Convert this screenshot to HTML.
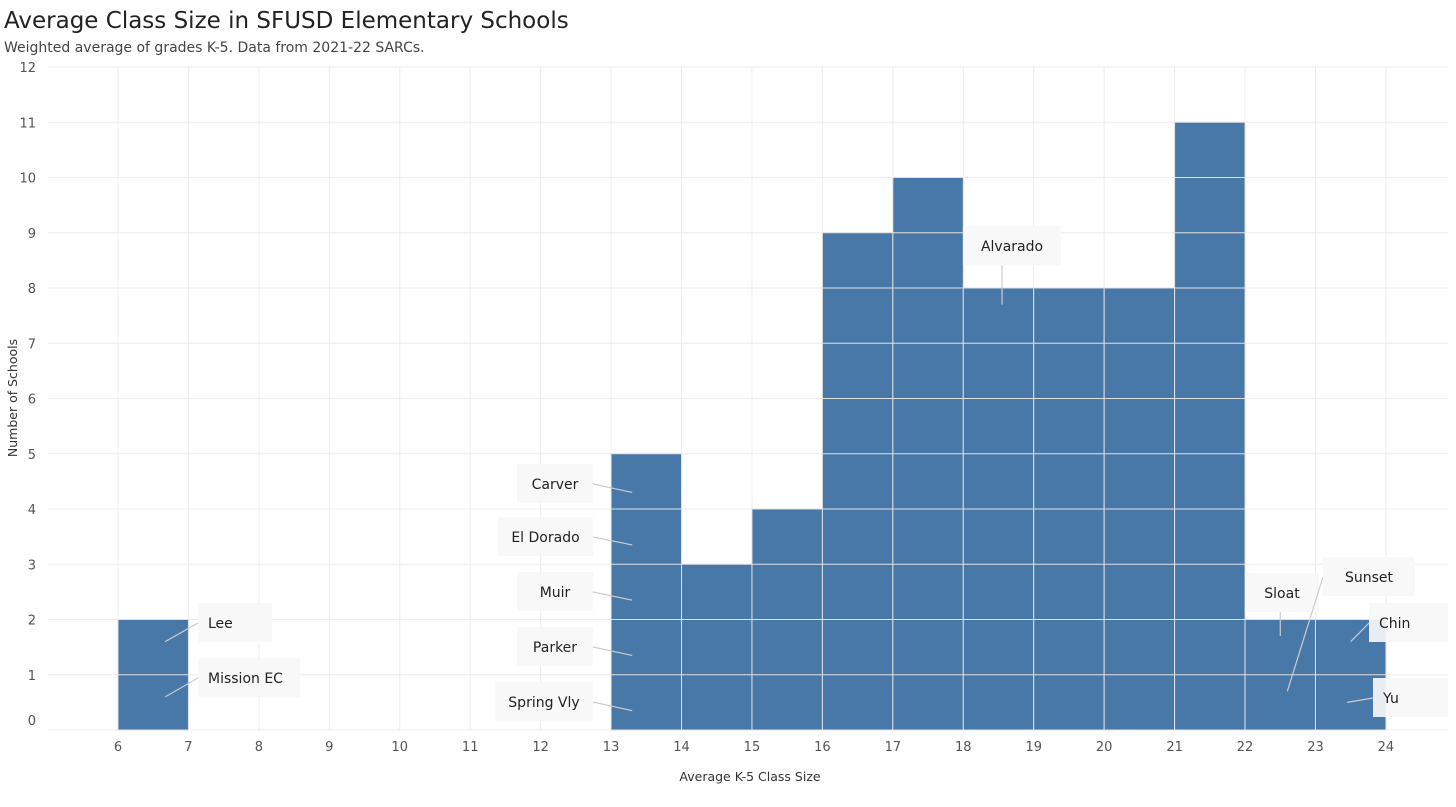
<!DOCTYPE html>
<html><head><meta charset="utf-8"><style>
body{margin:0;background:#fff;font-family:"DejaVu Sans","Liberation Sans",sans-serif;}
svg text{font-family:"DejaVu Sans","Liberation Sans",sans-serif;}
</style></head><body>
<svg id="c" width="1456" height="803">
<text x="4" y="28" font-size="23" fill="#222">Average Class Size in SFUSD Elementary Schools</text>
<text x="4" y="52" font-size="14" fill="#444">Weighted average of grades K-5. Data from 2021-22 SARCs.</text>
<g id="grid"></g><g id="bars"></g><g id="ann"></g><g id="axes"></g>
<text x="750" y="781" font-size="12.5" text-anchor="middle" fill="#333">Average K-5 Class Size</text>
<text transform="translate(17,398) rotate(-90)" font-size="12.5" text-anchor="middle" fill="#333">Number of Schools</text>
</svg>
<script>
const binStarts=[6,13,14,15,16,17,18,19,20,21,22,23];
const counts=[2,5,3,4,9,10,8,8,8,11,2,2];
const xTicks=[6,7,8,9,10,11,12,13,14,15,16,17,18,19,20,21,22,23,24];
const yTicks=[0,1,2,3,4,5,6,7,8,9,10,11,12];
const annNames=["Lee","Mission EC","Carver","El Dorado","Muir","Parker","Spring Vly","Alvarado","Sloat","Sunset","Chin","Yu"];
const annX=[6.67,6.67,13.3,13.3,13.3,13.3,13.3,18.55,22.5,22.6,23.5,23.45];
const annY=[1.6,0.6,4.3,3.35,2.35,1.35,0.35,7.7,1.7,0.7,1.6,0.5];
const NS="http://www.w3.org/2000/svg";
const X=v=>118+(v-6)*70.44, Y=v=>730-v*55.25;
function mk(t,a,p){const e=document.createElementNS(NS,t);for(const k in a)e.setAttribute(k,a[k]);p.appendChild(e);return e;}
const grid=document.getElementById('grid'),bars=document.getElementById('bars'),ax=document.getElementById('axes'),ann=document.getElementById('ann');
for(let v=5;v<=25;v++){const x=X(v);if(x<48||x>1448)continue;const l=mk('line',{x1:x,x2:x,y1:67,y2:730,stroke:'#ececec'},grid);}
yTicks.forEach(v=>{const l=mk('line',{x1:48,x2:1448,y1:Y(v),y2:Y(v),stroke:'#ececec'},grid);
const t=mk('text',{x:36,y:(v===0?720:Y(v))+5,'font-size':13,'text-anchor':'end',fill:'#555'},ax);t.textContent=v;});
xTicks.forEach(v=>{const t=mk('text',{x:X(v),y:751,'font-size':13,'text-anchor':'middle',fill:'#555'},ax);t.textContent=v;});
binStarts.forEach((b,i)=>{const r=mk('rect',{x:X(b),y:Y(counts[i]),width:X(b+1)-X(b),height:Y(0)-Y(counts[i]),fill:'#4878a8',stroke:'#e0e0e0','stroke-width':1},bars);
for(let k=1;k<counts[i];k++){const l=mk('line',{x1:X(b),x2:X(b+1),y1:Y(k),y2:Y(k),stroke:'#e0e0e0'},bars);}});
// label box positions (layout, px)
const boxes=[[198,603,74],[198,658,102],[517,464,76],[498,517,95],[517,572,76],[517,627,76],[495,682,98],[963,226,98],[1245,573,74],[1323,557,92],[1369,603,79],[1373,678,75]];
annNames.forEach((n,i)=>{const [bx,by,bw]=boxes[i];const px=X(annX[i]),py=Y(annY[i]);
let lx,ly;if(bx+bw<px){lx=bx+bw;ly=by+20;}else if(bx>px){lx=bx;ly=by+20;}else{lx=Math.min(Math.max(px,bx),bx+bw);ly=by+39;}
const l=mk('line',{x1:lx,y1:ly,x2:px,y2:py,stroke:'#ccc','stroke-width':1.2},ann);
const r=mk('rect',{x:bx,y:by,width:bw,height:39,fill:'#f7f7f7','fill-opacity':0.92},ann);
const t=mk('text',{x:(n==='Chin'||n==='Yu'||n==='Lee'||n==='Mission EC')?bx+10:bx+bw/2,y:by+25,'font-size':14,fill:'#222','text-anchor':(n==='Chin'||n==='Yu'||n==='Lee'||n==='Mission EC')?'start':'middle'},ann);t.textContent=n;});
</script>
</body></html>
